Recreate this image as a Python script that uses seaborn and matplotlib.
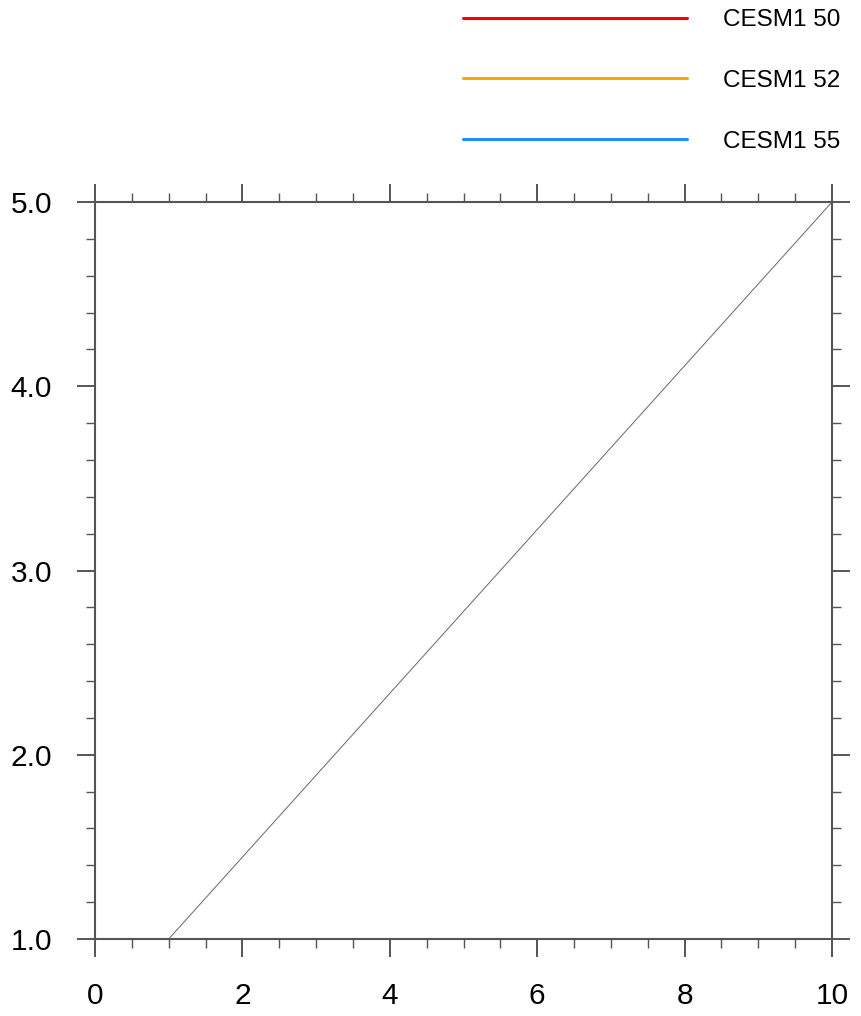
import matplotlib
matplotlib.use("Agg")
import matplotlib.pyplot as plt
from matplotlib.lines import Line2D
from matplotlib.ticker import MultipleLocator, FormatStrFormatter
import seaborn as sns
import pandas as pd

# Daten
line_x = [1, 10]
line_y = [1, 5]
legend_labels = ["CESM1 50", "CESM1 52", "CESM1 55"]
legend_colors = ["#ff0000", "#ffa500", "#1e90ff"]

sns.set_style("ticks")
plt.rcParams['font.family'] = ['Liberation Sans', 'DejaVu Sans']

axis_grey = "#555555"

fig = plt.figure(figsize=(8.61, 10.16), dpi=100)
ax = fig.add_axes([95 / 861, 77 / 1016, 737 / 861, 737 / 1016])

df = pd.DataFrame({"x": line_x, "y": line_y})
sns.lineplot(data=df, x="x", y="y", ax=ax, color="#666666", linewidth=0.7)

ax.set_xlim(0, 10)
ax.set_ylim(1, 5)
ax.xaxis.set_major_locator(MultipleLocator(2))
ax.xaxis.set_minor_locator(MultipleLocator(0.5))
ax.yaxis.set_major_locator(MultipleLocator(1))
ax.yaxis.set_minor_locator(MultipleLocator(0.2))
ax.yaxis.set_major_formatter(FormatStrFormatter("%.1f"))
ax.set_xlabel("")
ax.set_ylabel("")

for s in ax.spines.values():
    s.set_visible(True)
    s.set_color(axis_grey)
    s.set_linewidth(1.5)

ax.tick_params(which="both", direction="out", top=True, right=True,
               color=axis_grey, labelsize=21.5, labelcolor="black")
ax.tick_params(which="major", length=13, width=1.4, pad=18)
ax.tick_params(which="minor", length=6.5, width=1.0)

# Legende oberhalb der Achsen
handles = [Line2D([], [], color=c, linewidth=2.2) for c in legend_colors]
fig.legend(handles, legend_labels, loc="upper left",
           bbox_to_anchor=(463 / 861, 1 - 9 / 1016),
           frameon=False, fontsize=17.5, handlelength=9.2,
           handletextpad=1.5, labelspacing=1.6,
           borderpad=0, borderaxespad=0, labelcolor="black")

fig.savefig("out.png", dpi=100)
